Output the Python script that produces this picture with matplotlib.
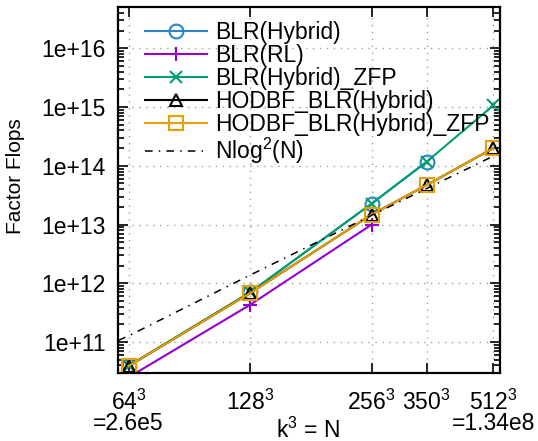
import math
import matplotlib
matplotlib.use("Agg")
import matplotlib.pyplot as plt
from matplotlib.ticker import FixedLocator, FuncFormatter, LogLocator, NullLocator

plt.rcParams["font.family"] = ["Liberation Sans", "DejaVu Sans"]
plt.rcParams["mathtext.fontset"] = "custom"
plt.rcParams["mathtext.rm"] = "Liberation Sans"
plt.rcParams["mathtext.it"] = "Liberation Sans:italic"

# ── Data ──────────────────────────────────────────────────────────────────────
k_vals = [64, 128, 256, 350, 512]
n_vals = [k ** 3 for k in k_vals]
tick_labels = ["64$^3$\n=2.6e5", "128$^3$", "256$^3$", "350$^3$", "512$^3$\n=1.34e8"]

blr_hybrid = [3.9e10, 7.0e11, 2.28e13, 1.17e14]
blr_rl = [2.5e10, 4.3e11, 1.0e13]
blr_hybrid_zfp = [3.9e10, 7.0e11, 2.28e13, 1.17e14, 1.07e15]
hodbf_hybrid = [3.9e10, 6.8e11, 1.48e13, 4.7e13, 2.0e14]
hodbf_hybrid_zfp = [3.9e10, 6.8e11, 1.48e13, 4.7e13, 2.0e14]

# reference curve N log^2(N)
ref_n = [2.2e5, 2.62e5, 2.1e6, 1.68e7, 4.29e7, 1.34e8]
ref_flops = [1.06e11, 1.27e11, 1.38e12, 1.44e13, 4.1e13, 1.46e14]

fig = plt.figure(figsize=(5.38, 4.41), dpi=100)
ax = fig.add_axes([0.22, 0.155, 0.709, 0.8283])

ms = 10
lw = 1.5
ax.plot(n_vals[:4], blr_hybrid, color="#2a86c6", lw=lw, marker="o", ms=ms,
        mfc="none", mew=lw, label="BLR(Hybrid)")
ax.plot(n_vals[:3], blr_rl, color="#9400D3", lw=lw, marker="+", ms=ms,
        mew=lw, label="BLR(RL)")
ax.plot(n_vals, blr_hybrid_zfp, color="#009E73", lw=lw, marker="x", ms=ms * 0.8,
        mew=lw, label="BLR(Hybrid)_ZFP")
ax.plot(n_vals, hodbf_hybrid, color="black", lw=lw, marker="^", ms=ms * 0.8,
        mfc="none", mew=lw, label="HODBF_BLR(Hybrid)")
ax.plot(n_vals, hodbf_hybrid_zfp, color="#E69F00", lw=lw, marker="s", ms=ms,
        mfc="none", mew=lw, label="HODBF_BLR(Hybrid)_ZFP")
ax.plot(ref_n, ref_flops, color="black", lw=1.1, ls=(0, (5, 4, 1, 4)),
        label="Nlog$^2$(N)")

ax.set_xscale("log")
ax.set_yscale("log")
ax.set_xlim(2.2e5, 1.5e8)
ax.set_ylim(3e10, 5e16)

ax.xaxis.set_major_locator(FixedLocator(n_vals))
ax.xaxis.set_minor_locator(NullLocator())
ax.set_xticklabels(tick_labels)
for t in ax.get_xticklabels():
    t.set_linespacing(0.85)
ax.yaxis.set_major_locator(FixedLocator([10.0 ** e for e in range(11, 17)]))
ax.yaxis.set_minor_locator(LogLocator(base=10, subs=range(2, 10), numticks=20))
ax.yaxis.set_major_formatter(FuncFormatter(lambda v, p: "1e+%d" % round(math.log10(v))))

ax.tick_params(which="both", direction="in", top=True, right=True, labelsize=16.5,
               width=1.2, color="black")
ax.tick_params(which="major", length=7)
ax.tick_params(which="minor", length=4)
ax.tick_params(axis="x", which="major", pad=12)
ax.tick_params(axis="y", which="major", pad=9)
for s in ax.spines.values():
    s.set_linewidth(1.6)

ax.grid(True, which="major", color="#a0a0a0", ls=(0, (1, 4)), lw=1)

ax.set_xlabel("k$^3$ = N", fontsize=16.5)
ax.xaxis.set_label_coords(0.497, -0.122)
ax.set_ylabel("Factor Flops", fontsize=15)
ax.yaxis.set_label_coords(-0.245, 0.538)

ax.legend(loc="upper left", bbox_to_anchor=(0.035, 1.0), frameon=False,
          fontsize=16.5, handlelength=2.7, handletextpad=0.35, labelspacing=0.0,
          borderaxespad=0.2, numpoints=1)

fig.savefig("out.png", dpi=100)
